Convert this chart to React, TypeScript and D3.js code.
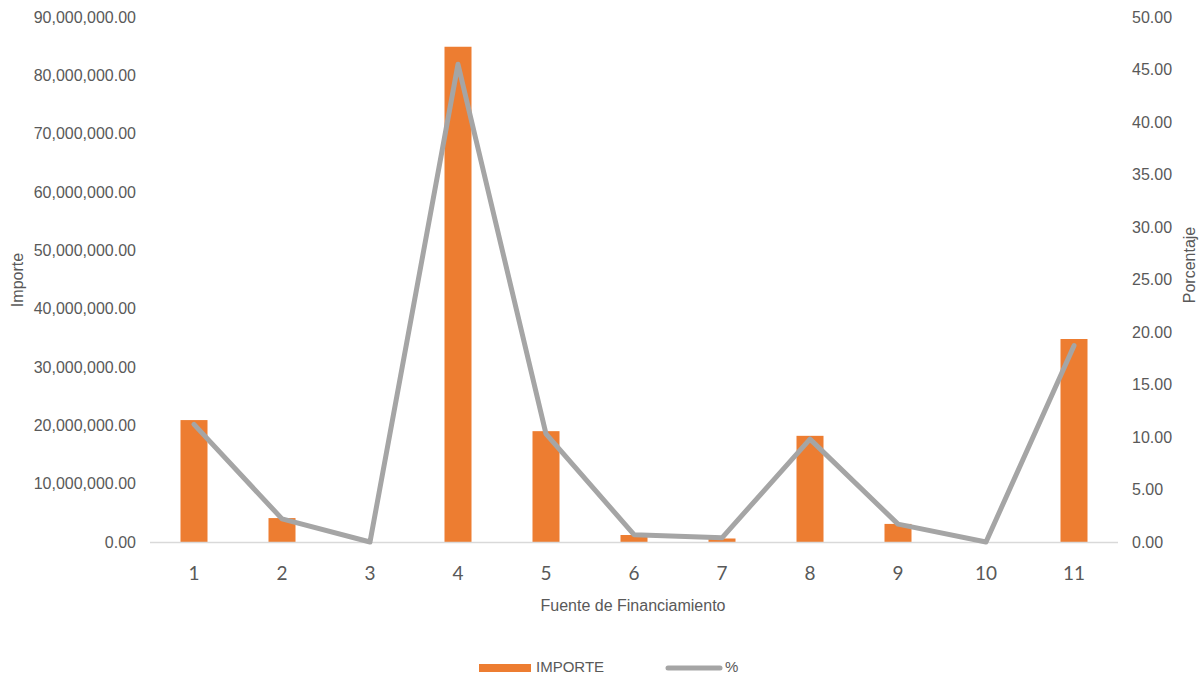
import React from "react";
import * as d3 from "d3";

const categories = ["1", "2", "3", "4", "5", "6", "7", "8", "9", "10", "11"];
const importe = [20900000, 4100000, 0, 84900000, 19000000, 1200000, 600000, 18200000, 3100000, 0, 34800000];
const porcentaje = [11.2, 2.2, 0, 45.5, 10.3, 0.7, 0.4, 9.8, 1.7, 0, 18.7];
const leftTicks = [0, 10000000, 20000000, 30000000, 40000000, 50000000, 60000000, 70000000, 80000000, 90000000];
const rightTicks = [0, 5, 10, 15, 20, 25, 30, 35, 40, 45, 50];

const W = 1201, H = 675;
const left = 150, right = 1118, top = 17, bottom = 542;
const font = "'Liberation Sans', Arial, sans-serif";
const gray = "#595959";

export default function App() {
  const x = d3.scaleBand<string>().domain(categories).range([left, right]);
  const yL = d3.scaleLinear().domain([0, 90000000]).range([bottom, top]);
  const yR = d3.scaleLinear().domain([0, 50]).range([bottom, top]);
  const fmtL = (v: number) => d3.format(",.2f")(v);
  const fmtR = (v: number) => d3.format(".2f")(v);
  const bw = 27;
  const line = d3
    .line<number>()
    .x((_, i) => (x(categories[i]) as number) + x.bandwidth() / 2)
    .y((d) => yR(d));

  return (
    <svg width={W} height={H} style={{ position: "absolute", left: 0, top: 0 }}>
      <rect width={W} height={H} fill="#fff" />
      {leftTicks.map((t) => (
        <text key={"l" + t} x={136} y={yL(t)} dy="0.35em" textAnchor="end" fontSize={16} fontFamily={font} fill={gray}>
          {fmtL(t)}
        </text>
      ))}
      {rightTicks.map((t) => (
        <text key={"r" + t} x={1132} y={yR(t)} dy="0.35em" textAnchor="start" fontSize={16} fontFamily={font} fill={gray}>
          {fmtR(t)}
        </text>
      ))}
      {importe.map((v, i) => (
        <rect
          key={"b" + i}
          x={(x(categories[i]) as number) + x.bandwidth() / 2 - bw / 2}
          y={yL(v)}
          width={bw}
          height={bottom - yL(v)}
          fill="#ED7D31"
        />
      ))}
      <line x1={left} x2={right} y1={bottom + 0.5} y2={bottom + 0.5} stroke="#D9D9D9" strokeWidth={1.5} />
      <path d={line(porcentaje) as string} fill="none" stroke="#A5A5A5" strokeWidth={5} strokeLinejoin="round" strokeLinecap="round" />
      {categories.map((c) => (
        <text key={"c" + c} x={(x(c) as number) + x.bandwidth() / 2} y={580} textAnchor="middle" fontSize={19} fontFamily="Lato, 'Open Sans', sans-serif" fill={gray}>
          {c}
        </text>
      ))}
      <text x={633} y={611} textAnchor="middle" fontSize={16} fontFamily={font} fill={gray}>
        Fuente de Financiamiento
      </text>
      <text transform="translate(23,280) rotate(-90)" textAnchor="middle" fontSize={16} fontFamily={font} fill={gray}>
        Importe
      </text>
      <text transform="translate(1195,265) rotate(-90)" textAnchor="middle" fontSize={16} fontFamily={font} fill={gray}>
        Porcentaje
      </text>
      <rect x={479} y={664} width={52} height={8} fill="#ED7D31" />
      <text x={536} y={672} fontSize={15} fontFamily={font} fill={gray}>IMPORTE</text>
      <line x1={668} x2={720} y1={668} y2={668} stroke="#A5A5A5" strokeWidth={5} strokeLinecap="round" />
      <text x={725} y={672} fontSize={15} fontFamily={font} fill={gray}>%</text>
    </svg>
  );
}
